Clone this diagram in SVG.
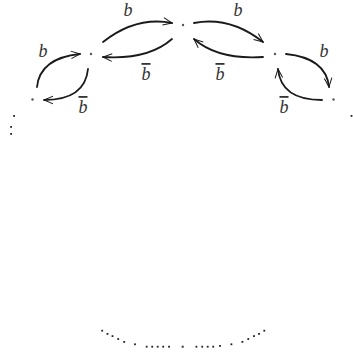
<svg xmlns="http://www.w3.org/2000/svg" width="353" height="353" viewBox="0 0 353 353">
<style>
.arc{fill:none;stroke:#1a1a1a;stroke-width:1.8;stroke-linecap:round}
.lbl{font-family:"Liberation Serif","DejaVu Serif",serif;font-style:italic;font-size:18px;fill:#333;text-anchor:middle}
.bar{text-decoration:overline}
.nd{fill:#555}
.dt{fill:#222}
</style>
<defs>
<marker id="ah" viewBox="-10 -5 12 10" refX="0" refY="0" markerWidth="12" markerHeight="10" markerUnits="userSpaceOnUse" orient="auto" overflow="visible">
<path d="M-9,-3.8 L0,0 L-9,3.8" fill="none" stroke="#1a1a1a" stroke-width="1"/>
</marker>
</defs>
<rect width="353" height="353" fill="#fff"/>
<g id="n_top"><circle class="nd" cx="183" cy="25" r="1.2"/></g>
<g id="n_l1"><circle class="nd" cx="91" cy="54" r="1.2"/></g>
<g id="n_l2"><circle class="nd" cx="32.5" cy="99.5" r="1.2"/></g>
<g id="n_r1"><circle class="nd" cx="275" cy="54" r="1.2"/></g>
<g id="n_r2"><circle class="nd" cx="333.5" cy="99.5" r="1.2"/></g>
<g id="n_bottom"><circle class="nd" cx="182.7" cy="346.7" r="1.2"/></g>
<g id="connectors">
<path class="arc" marker-end="url(#ah)" d="M103,42 Q136,16 172,23"/>
<path class="arc" marker-end="url(#ah)" d="M172,39 Q148,60 103,57"/>
<path class="arc" marker-end="url(#ah)" d="M37,87 Q40,58 80,54"/>
<path class="arc" marker-end="url(#ah)" d="M88,69 Q85,100 44,100"/>
<path class="arc" marker-end="url(#ah)" d="M194,23 Q230,16 263,42"/>
<path class="arc" marker-end="url(#ah)" d="M263,57 Q218,60 194,39"/>
<path class="arc" marker-end="url(#ah)" d="M286,54 Q326,58 329,87"/>
<path class="arc" marker-end="url(#ah)" d="M322,100 Q281,100 278,69"/>
<text class="lbl" x="128" y="16">b</text>
<text class="lbl bar" x="146" y="80">b</text>
<text class="lbl" x="43" y="57">b</text>
<text class="lbl bar" x="83" y="113">b</text>
<text class="lbl" x="238" y="16">b</text>
<text class="lbl bar" x="220" y="80">b</text>
<text class="lbl" x="324" y="57">b</text>
<text class="lbl bar" x="284" y="113">b</text>
</g>
<g id="ellipsis">
<rect class="dt" x="13.2" y="115" width="1.8" height="1.8"/>
<rect class="dt" x="10.2" y="126" width="1.8" height="1.8"/>
<rect class="dt" x="10.2" y="133" width="1.8" height="1.8"/>
<rect class="dt" x="350.6" y="115" width="1.8" height="1.8"/>
<rect class="dt" x="101.3" y="329.8" width="1.8" height="1.8"/>
<rect class="dt" x="106.6" y="333" width="1.8" height="1.8"/>
<rect class="dt" x="111.6" y="335.2" width="1.8" height="1.8"/>
<rect class="dt" x="117.3" y="338.1" width="1.8" height="1.8"/>
<rect class="dt" x="123.3" y="341" width="1.8" height="1.8"/>
<rect class="dt" x="134.1" y="343.4" width="1.8" height="1.8"/>
<rect class="dt" x="145.8" y="345.8" width="1.8" height="1.8"/>
<rect class="dt" x="151.3" y="345.8" width="1.8" height="1.8"/>
<rect class="dt" x="156.8" y="345.8" width="1.8" height="1.8"/>
<rect class="dt" x="162.3" y="345.8" width="1.8" height="1.8"/>
<rect class="dt" x="168.1" y="345.8" width="1.8" height="1.8"/>
<rect class="dt" x="195.5" y="345.8" width="1.8" height="1.8"/>
<rect class="dt" x="201.3" y="345.8" width="1.8" height="1.8"/>
<rect class="dt" x="206.8" y="345.8" width="1.8" height="1.8"/>
<rect class="dt" x="212.3" y="345.8" width="1.8" height="1.8"/>
<rect class="dt" x="219.1" y="345" width="1.8" height="1.8"/>
<rect class="dt" x="230.5" y="343.4" width="1.8" height="1.8"/>
<rect class="dt" x="241.5" y="341" width="1.8" height="1.8"/>
<rect class="dt" x="247.4" y="338.1" width="1.8" height="1.8"/>
<rect class="dt" x="253.1" y="335.2" width="1.8" height="1.8"/>
<rect class="dt" x="258.1" y="333" width="1.8" height="1.8"/>
<rect class="dt" x="263.4" y="329.8" width="1.8" height="1.8"/>
</g>
</svg>
